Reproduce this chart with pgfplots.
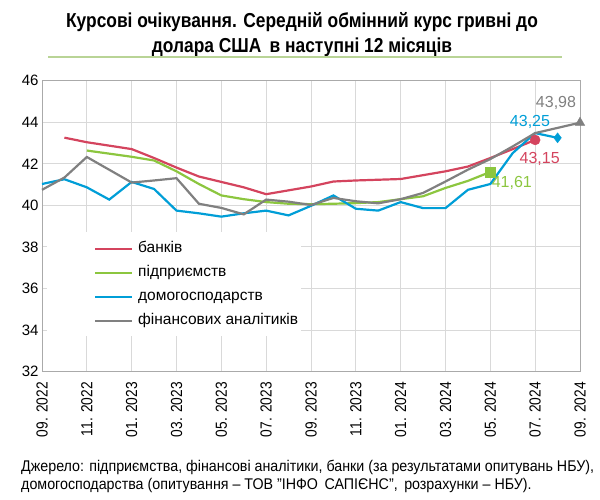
\documentclass[border=0pt]{standalone}
\usepackage{fontspec}
\setmainfont{Liberation Sans}
\newfontfamily\narrow[FakeStretch=0.86,Ligatures=TeX]{Liberation Sans}
\newfontfamily\narrowb[FakeStretch=0.92,Ligatures=TeX]{Liberation Sans}
\usepackage{pgfplots}
\pgfplotsset{compat=1.18}
\definecolor{cred}{RGB}{212,68,94}
\definecolor{cgreen}{RGB}{140,198,63}
\definecolor{cblue}{RGB}{0,158,215}
\definecolor{cgray}{RGB}{128,128,128}
\definecolor{cgrid}{RGB}{217,217,217}
\definecolor{cframe}{RGB}{170,170,170}
\definecolor{tline}{RGB}{185,212,150}
\begin{document}
\begin{tikzpicture}[x=1pt,y=1pt]
\path[use as bounding box] (0,0) rectangle (600,499);
\begin{axis}[
  at={(42pt,127.3pt)}, anchor=south west,
  scale only axis, width=538pt, height=291pt,
  xmin=0, xmax=24, ymin=32, ymax=46,
  xtick={0,2,...,24},
  xticklabels={09. 2022,11. 2022,01. 2023,03. 2023,05. 2023,07. 2023,09. 2023,11. 2023,01. 2024,03. 2024,05. 2024,07. 2024,09. 2024},
  ytick={32,34,...,46},
  grid=major, grid style={cgrid, line width=1pt},
  axis line style={cframe, line width=1pt},
  tick style={draw=none},
  x tick label style={rotate=90, anchor=east, font=\narrow\fontsize{16}{18}\selectfont},
  xticklabel shift=7pt,
  y tick label style={font=\fontsize{15}{17}\selectfont},
  /pgf/number format/assume math mode=true,
  clip=false,
  legend style={at={(rel axis cs:0.0093,0.48)}, anchor=north west, draw=none, fill=white,
    font=\fontsize{15.5}{17}\selectfont, inner xsep=3pt, inner ysep=8pt,
    nodes={inner sep=0pt, text height=12pt, text depth=4pt}, row sep=8pt},
  legend cell align=left,
  legend image code/.code={\path[draw=none,fill=none] (0pt,0pt) -- (88pt,0pt); \draw[#1, line width=2.2pt] (45pt,-0.5pt) -- (82pt,-0.5pt);},
]
\addplot[cred, line width=2.2pt] coordinates {
(1,43.26)(2,43.04)(4,42.71)(5,42.28)(6,41.82)(7,41.39)(8,41.13)(9,40.87)(10,40.54)
(12,40.91)(13,41.15)(14,41.20)(16,41.27)(18,41.64)(19,41.87)(20,42.28)(21,42.71)(22,43.15)};
\addplot[cgreen, line width=2.2pt] coordinates {
(2,42.64)(4,42.34)(5,42.16)(6,41.64)(7,41.03)(8,40.48)(9,40.30)(10,40.16)(11,40.08)
(12,40.06)(13,40.08)(14,40.11)(15,40.16)(16,40.30)(17,40.44)(18,40.84)(19,41.18)(20,41.61)};
\addplot[cblue, line width=2.2pt] coordinates {
(0,41.03)(1,41.26)(2,40.87)(3,40.28)(4,41.13)(5,40.79)(6,39.75)(7,39.62)(8,39.46)
(9,39.62)(10,39.75)(11,39.52)(12,39.98)(13,40.48)(14,39.84)(15,39.75)(16,40.16)
(17,39.87)(18,39.87)(19,40.75)(20,41.03)(21,42.52)(22,43.48)(23,43.25)};
\addplot[cgray, line width=2.2pt] coordinates {
(0,40.75)(1,41.34)(2,42.33)(4,41.10)(5,41.20)(6,41.31)(7,40.08)(8,39.88)(9,39.57)
(10,40.28)(11,40.18)(12,40.02)(13,40.36)(14,40.20)(15,40.10)(16,40.30)(17,40.60)
(18,41.15)(19,41.72)(20,42.23)(21,42.84)(22,43.48)(24,43.98)};
\legend{банків, підприємств, домогосподарств, фінансових аналітиків}
\addplot[cred, only marks, mark=*, mark size=5pt, forget plot] coordinates {(22,43.15)};
\addplot[cgreen, only marks, mark=square*, mark size=4.8pt, forget plot] coordinates {(20,41.61)};
\addplot[cblue, only marks, mark=diamond*, mark size=5pt, forget plot] coordinates {(23,43.25)};
\addplot[cgray, only marks, mark=triangle*, mark size=5.5pt, forget plot] coordinates {(24,43.98)};
\node[cgray, font=\fontsize{16}{18}\selectfont] at (axis cs:22.93,44.93) {43,98};
\node[cblue, font=\fontsize{16}{18}\selectfont] at (axis cs:21.77,44.03) {43,25};
\node[cred, font=\fontsize{16}{18}\selectfont] at (axis cs:22.2,42.22) {43,15};
\node[cgreen, font=\fontsize{16}{18}\selectfont] at (axis cs:20.96,41.06) {41,61};
\end{axis}
\node[font=\narrow\bfseries\fontsize{20.2}{25}\selectfont, align=center] at (302,464.5)
  {Курсові очікування. Середній обмінний курс гривні до\\долара США\, в наступні 12 місяців};
\draw[tline, line width=2pt] (48,441.5) -- (562,441.5);
\node[anchor=west, align=left, inner sep=0pt, font=\narrowb\fontsize{15.5}{18}\selectfont] at (21,23)
  {Джерело: підприємства, фінансові аналітики, банки (за результатами опитувань НБУ),\\домогосподарства (опитування – ТОВ "ІНФО\, САПІЄНС",\, розрахунки – НБУ).};
\end{tikzpicture}
\end{document}
